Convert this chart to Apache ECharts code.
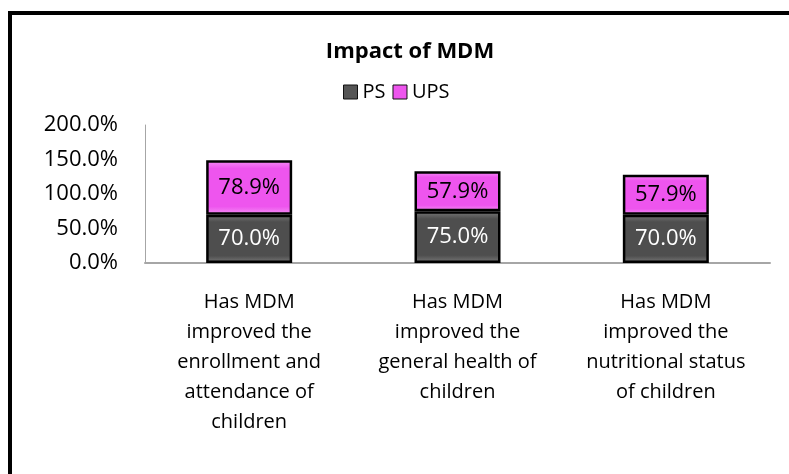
<!DOCTYPE html>
<html>
<head>
<meta charset="utf-8">
<script src="https://cdn.jsdelivr.net/npm/echarts@6/dist/echarts.min.js"></script>
<style>
  html, body { margin: 0; padding: 0; background: #fff; }
  #frame { position: absolute; left: 8px; top: 11px; width: 781px; height: 463px;
           border-left: 4px solid #000; border-top: 4px solid #000; box-sizing: border-box; }
  #chart { position: absolute; left: 0; top: 0; width: 789px; height: 474px; }
</style>
</head>
<body>
<div id="chart"></div>
<div id="frame"></div>
<script>
var categories = [
  "Has MDM\nimproved the\nenrollment and\nattendance of\nchildren",
  "Has MDM\nimproved the\ngeneral health of\nchildren",
  "Has MDM\nimproved the\nnutritional status\nof children"
];
var psValues = [70.0, 75.0, 70.0];
var upsValues = [78.9, 57.9, 57.9];
var yTicks = [0, 50, 100, 150, 200];

var font = "'Open Sans', 'Noto Sans', sans-serif";

var chart = echarts.init(document.getElementById("chart"));

function grad(top, bottom) {
  return new echarts.graphic.LinearGradient(0, 0, 0, 1, [
    { offset: 0, color: top },
    { offset: 0.15, color: bottom },
    { offset: 0.85, color: bottom },
    { offset: 1, color: top }
  ]);
}

var option = {
  animation: false,
  title: {
    text: "Impact of MDM",
    left: 405,
    textAlign: "center",
    top: 36,
    textStyle: { fontFamily: font, fontSize: 22, fontWeight: "bold", color: "#000" }
  },
  legend: {
    top: 77,
    left: 338,
    itemWidth: 14,
    itemHeight: 14,
    itemGap: 7,
    textStyle: { fontFamily: font, fontSize: 20, color: "#000" },
    data: [
      { name: "PS", icon: "rect", itemStyle: { color: "#555555", borderColor: "#111", borderWidth: 1 } },
      { name: "UPS", icon: "rect", itemStyle: { color: "#ee55ee", borderColor: "#111", borderWidth: 1 } }
    ]
  },
  grid: { left: 145, right: 19, top: 125, bottom: 211 },
  xAxis: {
    type: "category",
    data: categories,
    axisLine: { lineStyle: { color: "#a6a6a6", width: 2 } },
    axisTick: { show: false },
    axisLabel: {
      fontFamily: font, fontSize: 20, color: "#000",
      lineHeight: 30, margin: 24, interval: 0
    }
  },
  yAxis: {
    type: "value",
    min: yTicks[0],
    max: yTicks[yTicks.length - 1],
    interval: 50,
    axisLine: { show: true, lineStyle: { color: "#a6a6a6", width: 1 } },
    axisTick: { show: false },
    splitLine: { show: false },
    axisLabel: {
      fontFamily: font, fontSize: 22, color: "#000", margin: 27,
      formatter: function (v) { return v.toFixed(1) + "%"; }
    }
  },
  series: [
    {
      name: "PS",
      type: "bar",
      stack: "total",
      barWidth: 86,
      data: psValues,
      itemStyle: { color: grad("#7a7a7a", "#4e4e4e"), borderColor: "#000", borderWidth: 2.5 },
      label: {
        show: true, position: "inside", color: "#fff",
        fontFamily: font, fontSize: 22,
        formatter: function (p) { return p.value.toFixed(1) + "%"; }
      }
    },
    {
      name: "UPS",
      type: "bar",
      stack: "total",
      barWidth: 86,
      data: upsValues,
      itemStyle: { color: grad("#f590f5", "#ee55ee"), borderColor: "#000", borderWidth: 2.5 },
      label: {
        show: true, position: "inside", color: "#000",
        fontFamily: font, fontSize: 22,
        formatter: function (p) { return p.value.toFixed(1) + "%"; }
      }
    }
  ]
};

chart.setOption(option);
</script>
</body>
</html>
